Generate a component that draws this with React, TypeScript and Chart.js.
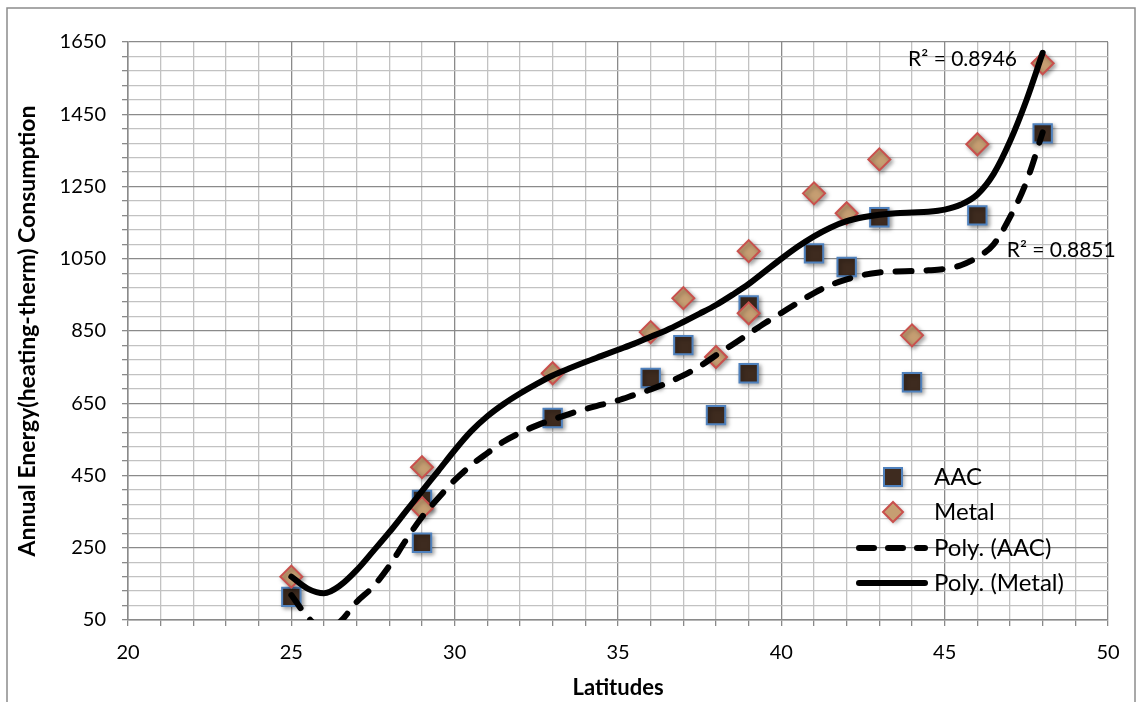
import { useEffect, useRef } from 'react';
import { Chart, registerables } from 'chart.js';

Chart.register(...registerables);

// ---- data ----
const aacLatitudes = [25, 29, 29, 33, 36, 37, 38, 39, 39, 41, 42, 43, 44, 46, 48];
const aacEnergy = [114, 264, 382, 609, 720, 811, 617, 921, 733, 1065, 1027, 1165, 708, 1170, 1397];
const metalLatitudes = [25, 29, 29, 33, 36, 37, 38, 39, 39, 41, 42, 43, 44, 46, 48];
const metalEnergy = [170, 473, 360, 733, 847, 941, 778, 1071, 899, 1231, 1176, 1325, 838, 1367, 1591];

const trendLatitudes = [
  25, 25.5, 26, 26.5, 27, 27.5, 28, 28.5, 29, 29.5, 30, 30.5, 31, 31.5, 32, 32.5, 33, 33.5, 34, 34.5,
  35, 35.5, 36, 36.5, 37, 37.5, 38, 38.5, 39, 39.5, 40, 40.5, 41, 41.5, 42, 42.5, 43, 43.5, 44, 44.5,
  45, 45.5, 46, 46.5, 47, 47.5, 48,
];
const polyAacValues = [
  119, 58, 22, 46, 100, 142, 200, 270, 335, 388, 437, 478, 512, 544, 568, 588, 605, 620, 634, 646,
  658, 673, 688, 706, 727, 752, 783, 812, 842, 872, 900, 928, 955, 977, 993, 1005, 1012, 1015, 1016, 1018,
  1022, 1032, 1054, 1090, 1165, 1262, 1400,
];
const polyMetalValues = [
  170, 137, 124, 146, 188, 240, 293, 350, 407, 463, 520, 572, 614, 648, 677, 703, 727, 746, 764, 781,
  798, 815, 834, 853, 875, 898, 922, 950, 980, 1015, 1050, 1083, 1112, 1136, 1154, 1165, 1172, 1176, 1178, 1180,
  1186, 1200, 1228, 1285, 1375, 1488, 1620,
];

const xTickLabels = [20, 25, 30, 35, 40, 45, 50];
const yTickLabels = [50, 250, 450, 650, 850, 1050, 1250, 1450, 1650];
const legendLabels = ['AAC', 'Metal', 'Poly. (AAC)', 'Poly. (Metal)'];
const rSquaredLabels = ['R² = 0.8851', 'R² = 0.8946'];
const xTitle = 'Latitudes';
const yTitle = 'Annual Energy(heating-therm) Consumption';

const FONT = 'Lato, "Open Sans", sans-serif';
const MAJOR = '#8a8a8a';
const MINOR = '#c2c2c2';
const AAC_FILL = '#3e2b1f';
const AAC_EDGE = '#4f81bd';
const METAL_FILL = '#c69e72';
const METAL_EDGE = '#c9504d';

const toPoints = (xs: number[], ys: number[]) => xs.map((x, i) => ({ x, y: ys[i] }));

const shadowPlugin = {
  id: 'markerShadow',
  beforeDatasetDraw(chart: any, args: any) {
    if (args.index > 1) return;
    const ctx = chart.ctx;
    ctx.save();
    ctx.shadowColor = 'rgba(0,0,0,0.35)';
    ctx.shadowBlur = 4;
    ctx.shadowOffsetX = 2;
    ctx.shadowOffsetY = 2;
  },
  afterDatasetDraw(chart: any, args: any) {
    if (args.index > 1) return;
    chart.ctx.restore();
  },
};

const decorPlugin = {
  id: 'decor',
  afterDraw(chart: any) {
    const ctx = chart.ctx as CanvasRenderingContext2D;
    const xs = chart.scales.x;
    const ys = chart.scales.y;
    ctx.save();
    // outer frame
    ctx.strokeStyle = '#8c8c8c';
    ctx.lineWidth = 1.5;
    ctx.strokeRect(7, 8, 1128, 720);

    // R² labels
    ctx.fillStyle = '#000';
    ctx.font = `21px ${FONT}`;
    ctx.textBaseline = 'middle';
    ctx.textAlign = 'left';
    ctx.fillText(rSquaredLabels[0], xs.getPixelForValue(46.9), ys.getPixelForValue(1074));
    ctx.fillText(rSquaredLabels[1], xs.getPixelForValue(43.88), ys.getPixelForValue(1602));

    // legend
    const ds = chart.data.datasets;
    const mx = 893;
    const tx = 934;
    const rows = [477, 512, 548, 583];
    ctx.save();
    ctx.shadowColor = 'rgba(0,0,0,0.35)';
    ctx.shadowBlur = 4;
    ctx.shadowOffsetX = 2;
    ctx.shadowOffsetY = 2;
    ctx.fillStyle = ds[0].backgroundColor;
    ctx.strokeStyle = ds[0].borderColor;
    ctx.lineWidth = 2;
    ctx.beginPath();
    ctx.rect(mx - 9, rows[0] - 9, 18, 18);
    ctx.fill();
    ctx.shadowColor = 'transparent';
    ctx.stroke();
    ctx.shadowColor = 'rgba(0,0,0,0.35)';
    ctx.fillStyle = ds[1].backgroundColor;
    ctx.strokeStyle = ds[1].borderColor;
    ctx.beginPath();
    ctx.moveTo(mx - 10, rows[1]);
    ctx.lineTo(mx, rows[1] - 10);
    ctx.lineTo(mx + 10, rows[1]);
    ctx.lineTo(mx, rows[1] + 10);
    ctx.closePath();
    ctx.fill();
    ctx.shadowColor = 'transparent';
    ctx.stroke();
    ctx.restore();
    ctx.strokeStyle = '#000';
    ctx.lineWidth = 6;
    ctx.lineCap = 'round';
    ctx.setLineDash([15, 14]);
    ctx.beginPath();
    ctx.moveTo(859, rows[2]);
    ctx.lineTo(925, rows[2]);
    ctx.stroke();
    ctx.setLineDash([]);
    ctx.beginPath();
    ctx.moveTo(859, rows[3]);
    ctx.lineTo(925, rows[3]);
    ctx.stroke();
    ctx.fillStyle = '#000';
    ctx.font = `24px ${FONT}`;
    ctx.textBaseline = 'middle';
    legendLabels.forEach((l, i) => ctx.fillText(l, tx, rows[i]));
    ctx.restore();
  },
};

export default function App() {
  const ref = useRef<HTMLCanvasElement | null>(null);

  useEffect(() => {
    document.body.style.margin = '0';
    const canvas = ref.current;
    if (!canvas) return;
    const chart = new Chart(canvas, {
      type: 'scatter',
      data: {
        datasets: [
          {
            label: legendLabels[0],
            data: toPoints(aacLatitudes, aacEnergy),
            pointStyle: 'rect',
            pointRadius: 13,
            pointHoverRadius: 13,
            backgroundColor: AAC_FILL,
            borderColor: AAC_EDGE,
            borderWidth: 2,
            order: 3,
            clip: false,
          },
          {
            label: legendLabels[1],
            data: toPoints(metalLatitudes, metalEnergy),
            pointStyle: 'rectRot',
            pointRadius: 11,
            pointHoverRadius: 11,
            backgroundColor: METAL_FILL,
            borderColor: METAL_EDGE,
            borderWidth: 2,
            order: 2,
            clip: false,
          },
          {
            label: legendLabels[2],
            data: toPoints(trendLatitudes, polyAacValues),
            showLine: true,
            pointRadius: 0,
            borderColor: '#000',
            borderWidth: 6,
            borderDash: [16, 15],
            borderCapStyle: 'round',
            cubicInterpolationMode: 'monotone',
            order: 1,
            clip: 0,
          },
          {
            label: legendLabels[3],
            data: toPoints(trendLatitudes, polyMetalValues),
            showLine: true,
            pointRadius: 0,
            borderColor: '#000',
            borderWidth: 6,
            borderCapStyle: 'round',
            cubicInterpolationMode: 'monotone',
            order: 0,
            clip: 0,
          },
        ] as any,
      },
      options: {
        responsive: false,
        animation: false,
        devicePixelRatio: 1,
        layout: { padding: { left: 0, top: 42, right: 28, bottom: 0 } },
        plugins: { legend: { display: false }, tooltip: { enabled: false } },
        scales: {
          x: {
            type: 'linear',
            min: 20,
            max: 50,
            afterFit: (s: any) => {
              s.height = 82;
            },
            ticks: {
              stepSize: 1,
              autoSkip: false,
              maxRotation: 0,
              padding: 15,
              color: '#000',
              font: { family: FONT, size: 20 },
              callback: (v: any) => (xTickLabels.includes(Number(v)) ? String(v) : ''),
            },
            grid: {
              color: (c: any) => (xTickLabels.includes(c.tick?.value) ? MAJOR : MINOR),
              lineWidth: 1.3,
              tickLength: 6,
              tickColor: MAJOR,
            },
            border: { color: MAJOR, width: 1.5 },
            title: {
              display: true,
              text: xTitle,
              color: '#000',
              font: { family: FONT, size: 22, weight: 'bold' },
              padding: { top: 1, bottom: 1 },
            },
          },
          y: {
            type: 'linear',
            min: 50,
            max: 1650,
            afterFit: (s: any) => {
              s.width = 128;
            },
            ticks: {
              stepSize: 40,
              autoSkip: false,
              padding: 16,
              color: '#000',
              font: { family: FONT, size: 20 },
              callback: (v: any) => (yTickLabels.includes(Number(v)) ? String(v) : ''),
            },
            grid: {
              color: (c: any) => (yTickLabels.includes(c.tick?.value) ? MAJOR : MINOR),
              lineWidth: 1.3,
              tickLength: 6,
              tickColor: MAJOR,
            },
            border: { color: MAJOR, width: 1.5 },
            title: {
              display: true,
              text: yTitle,
              color: '#000',
              font: { family: FONT, size: 23, weight: 'bold' },
              padding: { top: 14, bottom: 14 },
            },
          },
        },
      } as any,
      plugins: [shadowPlugin, decorPlugin],
    });
    return () => chart.destroy();
  }, []);

  return (
    <div style={{ width: 1136, height: 702 }}>
      <canvas ref={ref} width={1136} height={702} style={{ display: 'block' }} />
    </div>
  );
}
